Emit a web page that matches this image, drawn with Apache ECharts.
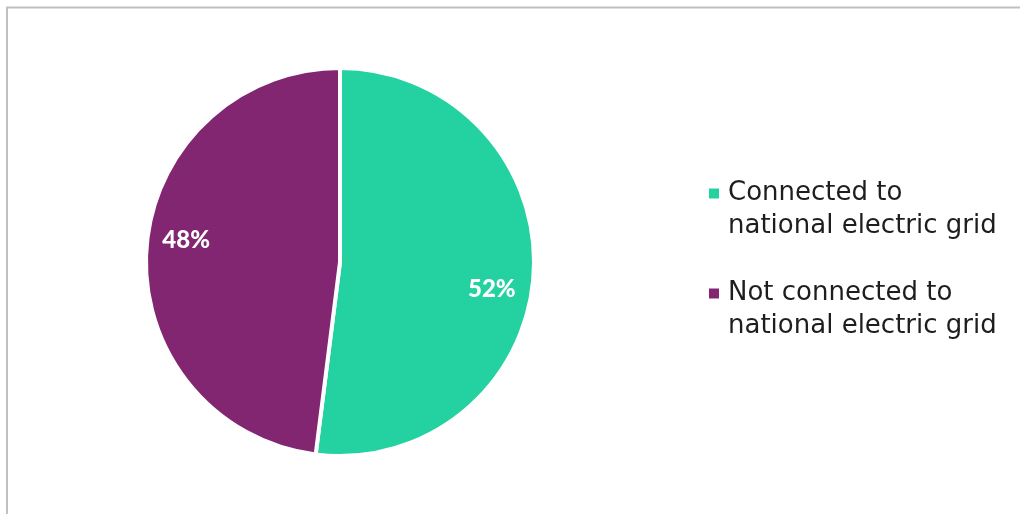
<!DOCTYPE html>
<html>
<head>
<meta charset="utf-8">
<style>
  html, body { margin: 0; padding: 0; background: #ffffff; }
  #chart { width: 1020px; height: 514px; }
</style>
<script src="https://cdn.jsdelivr.net/npm/echarts@6/dist/echarts.min.js"></script>
</head>
<body>
<div id="chart"></div>
<script>
// Share of households by grid connection
const categories = ['Connected to national electric grid', 'Not connected to national electric grid'];
const shares = [52, 48];

const sliceColors = ['#24D1A0', '#822672'];
// nudges for the in-slice percentage labels
const labelNudges = [[52, 21], [-54, -15]];

const chart = echarts.init(document.getElementById('chart'), null, { renderer: 'canvas' });

chart.setOption({
  backgroundColor: '#ffffff',
  animation: false,
  graphic: [{
    type: 'polyline',
    shape: { points: [[7, 514], [7, 7.5], [1020, 7.5]] },
    style: { stroke: '#c0c0c0', lineWidth: 2, fill: null },
    silent: true
  }],
  legend: {
    orient: 'vertical',
    left: 709,
    top: 144,
    padding: 0,
    icon: 'rect',
    itemWidth: 10,
    itemHeight: 10,
    itemGap: 1,
    selectedMode: false,
    itemStyle: { borderWidth: 0 },
    // leading blank line keeps the first text line level with the marker
    formatter: function (name) {
      return '\n' + name.replace(' national', '\nnational');
    },
    textStyle: {
      fontFamily: '"DejaVu Sans", sans-serif',
      fontSize: 26,
      color: '#1e1e1e',
      lineHeight: 33,
      padding: [0, 0, 0, 4]
    },
    data: categories
  },
  series: [{
    type: 'pie',
    center: [340, 262],
    radius: 194,
    startAngle: 90,
    clockwise: true,
    avoidLabelOverlap: false,
    itemStyle: { borderColor: '#ffffff', borderWidth: 4 },
    label: {
      show: true,
      position: 'inside',
      formatter: '{d}%',
      color: '#ffffff',
      fontFamily: 'Lato, "Noto Sans", sans-serif',
      fontWeight: 900,
      fontSize: 24
    },
    labelLine: { show: false },
    emphasis: { disabled: true },
    data: categories.map(function (name, i) {
      return {
        name: name,
        value: shares[i],
        itemStyle: { color: sliceColors[i] },
        label: { offset: labelNudges[i] }
      };
    })
  }]
});
</script>
</body>
</html>
